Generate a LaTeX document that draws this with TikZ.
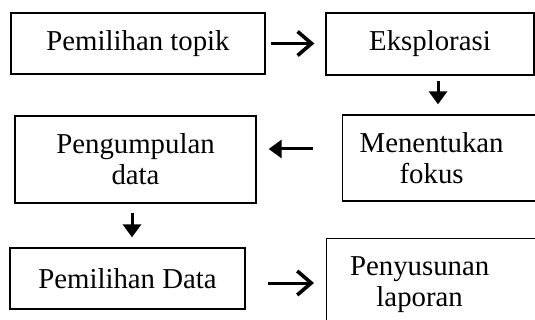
\documentclass[tikz,border=0pt]{standalone}
\usepackage{fontspec}
\setmainfont{Liberation Serif}
\usetikzlibrary{arrows.meta}

\begin{document}
\begin{tikzpicture}[
        font=\fontsize{14.4}{15.5}\selectfont,
        box/.style={rectangle, draw=black, line width=0.65pt, inner sep=0pt, text centered},
        arrow/.style={-{Triangle[length=6.5pt, width=9pt]}, line width=1.5pt},
        openarrow/.style={-{Straight Barb[length=7pt, width=12pt, line width=1.8pt]}, line width=1.5pt}
        ]
        \useasboundingbox (0,0) rectangle (267.5pt,-160pt);

        % Nodes
        \node[box, minimum width=127pt, minimum height=30.5pt] (topik) at (69pt,-21.75pt) {Pemilihan topik};
        \node[box, minimum width=104pt, minimum height=31pt] (eksplorasi) at (215pt,-22pt) {Eksplorasi};
        \node[box, minimum width=120.5pt, minimum height=43.5pt, align=center] (kumpul) at (67.75pt,-79.75pt) {Pengumpulan\\data};
        \node[box, minimum height=43pt, anchor=west] (fokus) at (171pt,-79pt) {\parbox{89pt}{\centering Menentukan\\fokus}\hspace*{30pt}};
        \node[box, minimum width=117.5pt, minimum height=30.5pt] (pilih) at (63.75pt,-139.25pt) {Pemilihan Data};
        \node[box, minimum height=46pt, anchor=north west] (susun) at (163pt,-119pt) {\parbox{93pt}{\centering Penyusunan\\laporan}\hspace*{30pt}};

        % Arrows
        \draw[openarrow, shorten <=2.5pt, shorten >=5.5pt] (topik.east) -- (topik.east -| eksplorasi.west);
        \draw[arrow, shorten <=2.5pt, shorten >=5pt] ([xshift=4pt]eksplorasi.south) -- ([xshift=4pt]eksplorasi.south |- fokus.north);
        \draw[arrow, shorten <=14.5pt, shorten >=6pt] ([yshift=4.5pt]fokus.west) -- ([yshift=4.5pt]fokus.west -| kumpul.east);
        \draw[arrow, shorten <=4.5pt, shorten >=5pt] ([xshift=-1.75pt]kumpul.south) -- ([xshift=-1.75pt]kumpul.south |- pilih.north);
        \draw[openarrow, shorten <=11pt, shorten >=6pt] ([yshift=-2.25pt]pilih.east) -- ([yshift=-2.25pt]pilih.east -| susun.west);

    \end{tikzpicture}
\end{document}
